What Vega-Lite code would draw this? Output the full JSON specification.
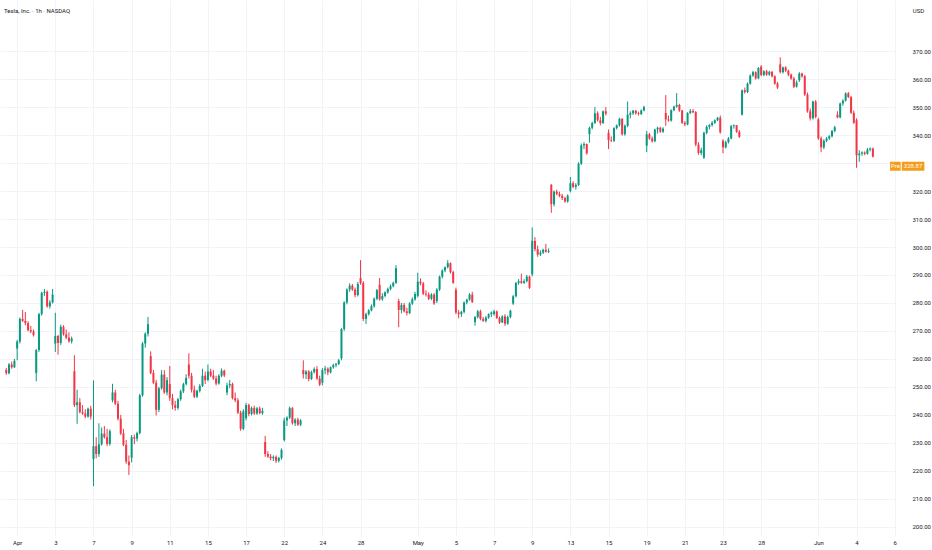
{
  "$schema": "https://vega.github.io/schema/vega-lite/v6.json",
  "width": 895,
  "height": 536,
  "autosize": {"type": "none"},
  "padding": {"left": 0, "top": 0, "right": 37, "bottom": 14},
  "background": "#ffffff",
  "title": {
    "text": "Tesla, Inc. · 1h · NASDAQ",
    "anchor": "start",
    "frame": "group",
    "orient": "top",
    "offset": 0,
    "dx": 4,
    "dy": 20,
    "baseline": "bottom",
    "font": "Roboto",
    "fontSize": 6,
    "fontWeight": "normal",
    "color": "#131722"
  },
  "config": {"view": {"stroke": null}, "font": "Roboto"},
  "datasets": {
    "bars": [
      {"i":-4,"o":256,"h":256.8,"l":254.3,"c":254.9},
      {"i":-3,"o":254.9,"h":258.5,"l":254.5,"c":258},
      {"i":-2,"o":258,"h":259,"l":256.5,"c":257},
      {"i":-1,"o":257,"h":260,"l":256.8,"c":259.3},
      {"i":0,"o":263.7,"h":266.8,"l":259.5,"c":266.2},
      {"i":1,"o":266.2,"h":274.8,"l":265.5,"c":274.3},
      {"i":2,"o":274.3,"h":277.5,"l":273.2,"c":273.6},
      {"i":3,"o":273.6,"h":276.8,"l":272,"c":272.8},
      {"i":4,"o":272.8,"h":273.5,"l":269.8,"c":270.3},
      {"i":5,"o":270.3,"h":271.8,"l":269.2,"c":269.8},
      {"i":6,"o":269.8,"h":270.5,"l":268,"c":268.5},
      {"i":7,"o":255,"h":263.5,"l":252,"c":263.2},
      {"i":8,"o":263.2,"h":276.5,"l":262.5,"c":276},
      {"i":9,"o":276,"h":284,"l":275.5,"c":283.6},
      {"i":10,"o":283.6,"h":285,"l":282.5,"c":284},
      {"i":11,"o":284,"h":284.5,"l":278.3,"c":278.8},
      {"i":12,"o":278.8,"h":281,"l":278,"c":280.2},
      {"i":13,"o":280.2,"h":285,"l":279.8,"c":283},
      {"i":14,"o":265.5,"h":276.5,"l":262.5,"c":268.2},
      {"i":15,"o":268.2,"h":268.6,"l":261.5,"c":265.7},
      {"i":16,"o":265.7,"h":272.2,"l":265,"c":271.5},
      {"i":17,"o":271.5,"h":272,"l":268.3,"c":268.8},
      {"i":18,"o":268.8,"h":270.5,"l":267,"c":267.6},
      {"i":19,"o":267.6,"h":269.5,"l":265.8,"c":266.3},
      {"i":20,"o":266.3,"h":268,"l":265.5,"c":267.3},
      {"i":21,"o":255.6,"h":261.3,"l":242.8,"c":243.5},
      {"i":22,"o":243.5,"h":249,"l":236.8,"c":244.5},
      {"i":23,"o":244.5,"h":246,"l":240.5,"c":241},
      {"i":24,"o":241,"h":243.5,"l":240,"c":240.5},
      {"i":25,"o":240.5,"h":242,"l":238.8,"c":239.4},
      {"i":26,"o":239.4,"h":242.6,"l":239,"c":242.2},
      {"i":27,"o":242.2,"h":243.2,"l":238.3,"c":239.4},
      {"i":28,"o":224.2,"h":252.3,"l":214.5,"c":228.8},
      {"i":29,"o":228.8,"h":232,"l":224.5,"c":226},
      {"i":30,"o":226,"h":237,"l":225,"c":229.5},
      {"i":31,"o":229.5,"h":235.5,"l":229,"c":233.3},
      {"i":32,"o":233.3,"h":236,"l":231.5,"c":232},
      {"i":33,"o":232,"h":235,"l":228.8,"c":229.6},
      {"i":34,"o":229.6,"h":234.8,"l":229,"c":234.2},
      {"i":35,"o":245.2,"h":251.1,"l":244.5,"c":248},
      {"i":36,"o":248,"h":249,"l":243.5,"c":244},
      {"i":37,"o":244,"h":245,"l":238,"c":238.6},
      {"i":38,"o":238.6,"h":240,"l":232.8,"c":233.4},
      {"i":39,"o":233.4,"h":235,"l":228.8,"c":229.3},
      {"i":40,"o":229.3,"h":231,"l":222.5,"c":223.3},
      {"i":41,"o":223.3,"h":225.5,"l":218.5,"c":222},
      {"i":42,"o":224.7,"h":232.8,"l":223,"c":232},
      {"i":43,"o":232,"h":233,"l":229.5,"c":231.5},
      {"i":44,"o":231.5,"h":234,"l":230.5,"c":233.5},
      {"i":45,"o":233.5,"h":247.5,"l":233,"c":247},
      {"i":46,"o":247,"h":266,"l":246.5,"c":265.5},
      {"i":47,"o":265.5,"h":269.5,"l":264,"c":269},
      {"i":48,"o":269,"h":275,"l":268,"c":272.4},
      {"i":49,"o":261,"h":262.7,"l":254.5,"c":255},
      {"i":50,"o":255,"h":256,"l":251,"c":251.5},
      {"i":51,"o":251.5,"h":252.5,"l":239.8,"c":241.8},
      {"i":52,"o":241.8,"h":250,"l":241,"c":249.5},
      {"i":53,"o":249.5,"h":256,"l":249,"c":254.4},
      {"i":54,"o":254.4,"h":256,"l":247.5,"c":248},
      {"i":55,"o":248,"h":253.5,"l":247,"c":252.4},
      {"i":56,"o":251,"h":257.5,"l":245,"c":246},
      {"i":57,"o":246,"h":247.5,"l":242,"c":243.5},
      {"i":58,"o":243.5,"h":245,"l":241.5,"c":242.5},
      {"i":59,"o":242.5,"h":246,"l":241.8,"c":245.6},
      {"i":60,"o":245.6,"h":249,"l":245,"c":248.4},
      {"i":61,"o":248.4,"h":251.5,"l":247.8,"c":251},
      {"i":62,"o":251,"h":254.5,"l":250.5,"c":253.2},
      {"i":63,"o":258,"h":262,"l":253,"c":254},
      {"i":64,"o":254,"h":255,"l":248,"c":249},
      {"i":65,"o":249,"h":250.5,"l":246,"c":246.5},
      {"i":66,"o":246.5,"h":249,"l":246,"c":248.6},
      {"i":67,"o":248.6,"h":251,"l":248,"c":250.3},
      {"i":68,"o":250.3,"h":256.5,"l":250,"c":254},
      {"i":69,"o":254,"h":255.5,"l":251,"c":252.4},
      {"i":70,"o":252.5,"h":258,"l":252,"c":255.5},
      {"i":71,"o":255.5,"h":256.5,"l":253.5,"c":254},
      {"i":72,"o":254,"h":256,"l":252.5,"c":253},
      {"i":73,"o":253,"h":254,"l":250.5,"c":251.2},
      {"i":74,"o":251.2,"h":254.5,"l":250.8,"c":254},
      {"i":75,"o":254,"h":256.6,"l":253.5,"c":255.8},
      {"i":76,"o":255.8,"h":256.2,"l":253.5,"c":254.1},
      {"i":77,"o":248,"h":251.5,"l":247,"c":250.5},
      {"i":78,"o":250.5,"h":252.5,"l":249.5,"c":251},
      {"i":79,"o":251,"h":251.5,"l":245.5,"c":246},
      {"i":80,"o":246,"h":248,"l":244.5,"c":245.2},
      {"i":81,"o":245.2,"h":246,"l":240.3,"c":240.8},
      {"i":82,"o":240.8,"h":241.5,"l":234.3,"c":235},
      {"i":83,"o":235,"h":242,"l":234.5,"c":241.3},
      {"i":84,"o":238.8,"h":244.3,"l":238,"c":243.5},
      {"i":85,"o":243.5,"h":244,"l":239.5,"c":240.3},
      {"i":86,"o":240.3,"h":243,"l":239.8,"c":242.5},
      {"i":87,"o":242.5,"h":243.3,"l":240,"c":240.5},
      {"i":88,"o":240.5,"h":242.8,"l":240,"c":242.3},
      {"i":89,"o":242.3,"h":243,"l":240.2,"c":240.6},
      {"i":90,"o":240.6,"h":242.5,"l":240,"c":241.4},
      {"i":91,"o":230.3,"h":232.5,"l":225,"c":226},
      {"i":92,"o":226,"h":227,"l":224.6,"c":225.1},
      {"i":93,"o":225.1,"h":226,"l":223.8,"c":224.5},
      {"i":94,"o":224.5,"h":225.5,"l":223.5,"c":225},
      {"i":95,"o":225,"h":225.5,"l":222.8,"c":223.6},
      {"i":96,"o":223.6,"h":225,"l":223,"c":224.6},
      {"i":97,"o":224.6,"h":228,"l":224,"c":227.5},
      {"i":98,"o":231,"h":239,"l":230.5,"c":238},
      {"i":99,"o":238,"h":239.5,"l":236,"c":239},
      {"i":100,"o":239,"h":243,"l":238.5,"c":242.4},
      {"i":101,"o":242.4,"h":242.8,"l":236.5,"c":237},
      {"i":102,"o":237,"h":238.8,"l":236,"c":238.3},
      {"i":103,"o":238.3,"h":239,"l":236,"c":236.5},
      {"i":104,"o":236.5,"h":238.5,"l":236,"c":238},
      {"i":105,"o":256,"h":259.5,"l":253,"c":254.5},
      {"i":106,"o":254.5,"h":256,"l":252.8,"c":255.5},
      {"i":107,"o":255.5,"h":256,"l":252,"c":252.8},
      {"i":108,"o":252.8,"h":255.8,"l":252.5,"c":255.3},
      {"i":109,"o":255.3,"h":257,"l":254.8,"c":256.4},
      {"i":110,"o":256.4,"h":257.4,"l":252.5,"c":253},
      {"i":111,"o":253,"h":254,"l":250.3,"c":250.8},
      {"i":112,"o":251.5,"h":256.7,"l":250.5,"c":256},
      {"i":113,"o":256,"h":257.5,"l":254.5,"c":256.5},
      {"i":114,"o":256.5,"h":257,"l":254.2,"c":255.2},
      {"i":115,"o":255.2,"h":257.3,"l":254.8,"c":257},
      {"i":116,"o":257,"h":258.3,"l":256.5,"c":257.8},
      {"i":117,"o":257.8,"h":258.6,"l":257,"c":258.2},
      {"i":118,"o":258.2,"h":260,"l":257.8,"c":259.5},
      {"i":119,"o":260.2,"h":271,"l":259.5,"c":270.7},
      {"i":120,"o":270.7,"h":280.6,"l":270,"c":280.2},
      {"i":121,"o":280.2,"h":285.2,"l":279.5,"c":284.8},
      {"i":122,"o":284.8,"h":287,"l":284,"c":286.2},
      {"i":123,"o":286.2,"h":286.8,"l":284.3,"c":284.8},
      {"i":124,"o":284.8,"h":285.5,"l":282,"c":282.8},
      {"i":125,"o":282.8,"h":287.5,"l":282.3,"c":286.8},
      {"i":126,"o":288.9,"h":295.3,"l":286.5,"c":287.1},
      {"i":127,"o":287.1,"h":287.8,"l":273.5,"c":274.3},
      {"i":128,"o":274.3,"h":276.5,"l":272.5,"c":276},
      {"i":129,"o":276,"h":277.8,"l":275.5,"c":277.3},
      {"i":130,"o":277.3,"h":279.5,"l":277,"c":278.8},
      {"i":131,"o":278.8,"h":282,"l":278.3,"c":281.5},
      {"i":132,"o":281.5,"h":285,"l":281,"c":284.6},
      {"i":133,"o":286.5,"h":288.9,"l":280.8,"c":281.3},
      {"i":134,"o":281.3,"h":283.5,"l":280.8,"c":282.5},
      {"i":135,"o":282.5,"h":284.2,"l":282,"c":283.8},
      {"i":136,"o":283.8,"h":285.5,"l":283.3,"c":285},
      {"i":137,"o":285,"h":286.6,"l":284.5,"c":286},
      {"i":138,"o":286,"h":287.6,"l":285.6,"c":287.2},
      {"i":139,"o":287.2,"h":293.5,"l":286.8,"c":292.4},
      {"i":140,"o":280.7,"h":281.5,"l":271.3,"c":277.5},
      {"i":141,"o":277.5,"h":280,"l":276.3,"c":279.3},
      {"i":142,"o":279.3,"h":280,"l":276.6,"c":277},
      {"i":143,"o":277,"h":278.3,"l":275.5,"c":276.4},
      {"i":144,"o":276.4,"h":280.3,"l":276,"c":279.8},
      {"i":145,"o":279.8,"h":282,"l":279.3,"c":281.3},
      {"i":146,"o":281.3,"h":284,"l":280.8,"c":283.2},
      {"i":147,"o":282.5,"h":290.8,"l":282,"c":287.6},
      {"i":148,"o":287.6,"h":288.8,"l":286.3,"c":287},
      {"i":149,"o":287,"h":287.5,"l":282.8,"c":283.3},
      {"i":150,"o":283.3,"h":284.5,"l":282.3,"c":283},
      {"i":151,"o":283,"h":283.8,"l":281,"c":281.5},
      {"i":152,"o":281.5,"h":283.5,"l":281,"c":283},
      {"i":153,"o":283,"h":283.5,"l":279.3,"c":279.8},
      {"i":154,"o":280.7,"h":285.3,"l":280,"c":284.8},
      {"i":155,"o":284.8,"h":289.8,"l":284.3,"c":289.4},
      {"i":156,"o":289.4,"h":292,"l":288.8,"c":291.6},
      {"i":157,"o":291.6,"h":293,"l":291,"c":292.8},
      {"i":158,"o":292.8,"h":295.3,"l":292.3,"c":294.2},
      {"i":159,"o":294.2,"h":294.5,"l":290.5,"c":291},
      {"i":160,"o":291,"h":291.5,"l":286.8,"c":287.2},
      {"i":161,"o":284.7,"h":285.5,"l":276,"c":276.6},
      {"i":162,"o":276.6,"h":277.5,"l":274.5,"c":276},
      {"i":163,"o":276,"h":277.2,"l":275,"c":276.8},
      {"i":164,"o":276.8,"h":280.5,"l":276.3,"c":280.2},
      {"i":165,"o":280.2,"h":281.5,"l":279.5,"c":281.2},
      {"i":166,"o":281.2,"h":283.5,"l":280.8,"c":283},
      {"i":167,"o":283,"h":284,"l":280,"c":280.3},
      {"i":168,"o":273.2,"h":275.3,"l":271.9,"c":275},
      {"i":169,"o":275,"h":277.5,"l":274.5,"c":277},
      {"i":170,"o":277,"h":277.6,"l":273.8,"c":274.3},
      {"i":171,"o":274.3,"h":275,"l":273.2,"c":273.6},
      {"i":172,"o":273.6,"h":275.3,"l":273,"c":274.8},
      {"i":173,"o":274.8,"h":276.3,"l":274.3,"c":276},
      {"i":174,"o":276,"h":277,"l":275,"c":276.6},
      {"i":175,"o":276,"h":277.6,"l":275.5,"c":277},
      {"i":176,"o":277,"h":277.3,"l":274.3,"c":274.6},
      {"i":177,"o":274.6,"h":275.2,"l":272.5,"c":273},
      {"i":178,"o":273,"h":275.6,"l":272.8,"c":275.2},
      {"i":179,"o":275.2,"h":276,"l":271.8,"c":272.6},
      {"i":180,"o":272.6,"h":275.5,"l":272.2,"c":275},
      {"i":181,"o":275,"h":277.6,"l":274.5,"c":277.2},
      {"i":182,"o":279.8,"h":282.8,"l":279.3,"c":282.4},
      {"i":183,"o":282.4,"h":287.5,"l":282,"c":287.2},
      {"i":184,"o":287.2,"h":288.5,"l":286.5,"c":287.8},
      {"i":185,"o":287.8,"h":290.5,"l":286.8,"c":287.2},
      {"i":186,"o":287.2,"h":288.5,"l":286.8,"c":287.8},
      {"i":187,"o":287.8,"h":290,"l":287.3,"c":289.4},
      {"i":188,"o":289.4,"h":289.8,"l":285,"c":285.4},
      {"i":189,"o":290.2,"h":307,"l":289.5,"c":302.2},
      {"i":190,"o":302.2,"h":303.5,"l":298.5,"c":299.2},
      {"i":191,"o":299.2,"h":300.5,"l":296.5,"c":297.3},
      {"i":192,"o":297.3,"h":298.8,"l":296.8,"c":298},
      {"i":193,"o":298,"h":299.4,"l":297.5,"c":299},
      {"i":194,"o":299,"h":301.1,"l":298,"c":298.3},
      {"i":195,"o":298.3,"h":299.5,"l":297.8,"c":298.6},
      {"i":196,"o":322.2,"h":322.5,"l":312.2,"c":315.3},
      {"i":197,"o":315.3,"h":320.2,"l":314.5,"c":319.8},
      {"i":198,"o":319.8,"h":320.5,"l":318.5,"c":319},
      {"i":199,"o":319,"h":319.8,"l":317.8,"c":318.3},
      {"i":200,"o":318.3,"h":319,"l":316.8,"c":317.5},
      {"i":201,"o":317.5,"h":318,"l":315.8,"c":316.3},
      {"i":202,"o":316.3,"h":318.8,"l":315.8,"c":318.4},
      {"i":203,"o":320,"h":325,"l":319.5,"c":322.8},
      {"i":204,"o":322.8,"h":323.5,"l":321,"c":321.5},
      {"i":205,"o":321.5,"h":322.8,"l":320.5,"c":322.2},
      {"i":206,"o":322.2,"h":330.3,"l":321.8,"c":329.8},
      {"i":207,"o":329.8,"h":337,"l":329.3,"c":336.3},
      {"i":208,"o":336.3,"h":337.5,"l":335,"c":336.8},
      {"i":209,"o":336.8,"h":337,"l":333,"c":333.5},
      {"i":210,"o":340.3,"h":343,"l":337.3,"c":342.6},
      {"i":211,"o":342.6,"h":344.8,"l":342,"c":344.3},
      {"i":212,"o":344.3,"h":350,"l":344,"c":347.8},
      {"i":213,"o":347.8,"h":348.5,"l":344.8,"c":345.3},
      {"i":214,"o":345.3,"h":346.5,"l":343.5,"c":344.3},
      {"i":215,"o":344.3,"h":348.8,"l":344,"c":348.5},
      {"i":216,"o":348.5,"h":350,"l":347,"c":347.7},
      {"i":217,"o":340.8,"h":342,"l":335,"c":338.2},
      {"i":218,"o":338.2,"h":339.5,"l":337.5,"c":338},
      {"i":219,"o":338,"h":342.8,"l":337.5,"c":342.5},
      {"i":220,"o":342.5,"h":343.8,"l":342,"c":343.5},
      {"i":221,"o":343.5,"h":346.2,"l":343,"c":345.8},
      {"i":222,"o":345.8,"h":346.1,"l":339.8,"c":340.3},
      {"i":223,"o":340.3,"h":343.8,"l":339.8,"c":343.3},
      {"i":224,"o":343.3,"h":352,"l":342.8,"c":347.3},
      {"i":225,"o":347.3,"h":348.5,"l":346,"c":347.8},
      {"i":226,"o":347.8,"h":349,"l":347.2,"c":348.7},
      {"i":227,"o":348.7,"h":349,"l":347.3,"c":347.8},
      {"i":228,"o":347.8,"h":348.4,"l":347,"c":347.5},
      {"i":229,"o":347.5,"h":349.2,"l":347.2,"c":348.8},
      {"i":230,"o":348.8,"h":350.5,"l":348.5,"c":350},
      {"i":231,"o":336.2,"h":341.5,"l":333.9,"c":340.3},
      {"i":232,"o":340.3,"h":340.8,"l":338.3,"c":338.8},
      {"i":233,"o":338.8,"h":339.5,"l":337.3,"c":337.8},
      {"i":234,"o":337.8,"h":342.3,"l":337.5,"c":342},
      {"i":235,"o":342,"h":343,"l":340.5,"c":342.6},
      {"i":236,"o":342.6,"h":343,"l":340.8,"c":341.2},
      {"i":237,"o":341.2,"h":342.8,"l":340.8,"c":342.3},
      {"i":238,"o":347.9,"h":354.3,"l":343.3,"c":345.6},
      {"i":239,"o":345.6,"h":347,"l":344.8,"c":345.2},
      {"i":240,"o":345.2,"h":349.2,"l":344.8,"c":348.9},
      {"i":241,"o":348.9,"h":350.5,"l":348.5,"c":350.2},
      {"i":242,"o":350.2,"h":355,"l":349.8,"c":350.8},
      {"i":243,"o":350.8,"h":351.2,"l":348.3,"c":348.8},
      {"i":244,"o":348.8,"h":349,"l":344,"c":344.4},
      {"i":245,"o":344.4,"h":345,"l":343.2,"c":343.8},
      {"i":246,"o":343.8,"h":348.2,"l":343.5,"c":347.9},
      {"i":247,"o":347.9,"h":349.3,"l":347.5,"c":348.6},
      {"i":248,"o":348.6,"h":349.3,"l":347.8,"c":348.2},
      {"i":249,"o":348.2,"h":348.6,"l":336,"c":336.6},
      {"i":250,"o":336.6,"h":337.5,"l":333,"c":333.6},
      {"i":251,"o":333.6,"h":335.5,"l":332.8,"c":334.6},
      {"i":252,"o":331.9,"h":341.2,"l":331.5,"c":340.8},
      {"i":253,"o":340.8,"h":343.5,"l":340.3,"c":343},
      {"i":254,"o":343,"h":344,"l":342,"c":343.6},
      {"i":255,"o":343.6,"h":345,"l":343,"c":344.4},
      {"i":256,"o":344.4,"h":345.6,"l":344,"c":345.3},
      {"i":257,"o":345.3,"h":346.5,"l":345,"c":346.2},
      {"i":258,"o":346.2,"h":347,"l":340.5,"c":341},
      {"i":259,"o":338,"h":338.5,"l":333.5,"c":335.6},
      {"i":260,"o":335.6,"h":338,"l":335.2,"c":337.5},
      {"i":261,"o":337.5,"h":339.3,"l":337,"c":338.8},
      {"i":262,"o":338.8,"h":343.6,"l":338.5,"c":343.2},
      {"i":263,"o":343.2,"h":343.8,"l":342.3,"c":343.5},
      {"i":264,"o":343.5,"h":343.6,"l":340.8,"c":341.2},
      {"i":265,"o":341.2,"h":341.8,"l":339,"c":339.4},
      {"i":266,"o":347.3,"h":356.3,"l":347,"c":356},
      {"i":267,"o":356,"h":357,"l":354.8,"c":355.4},
      {"i":268,"o":355.4,"h":358.8,"l":355,"c":358.4},
      {"i":269,"o":358.4,"h":361.7,"l":358,"c":361.3},
      {"i":270,"o":361.3,"h":363,"l":360.8,"c":362.5},
      {"i":271,"o":362.5,"h":362.8,"l":359.8,"c":360.3},
      {"i":272,"o":360.3,"h":364.3,"l":360,"c":364},
      {"i":273,"o":364.5,"h":365,"l":361,"c":361.5},
      {"i":274,"o":361.5,"h":363.2,"l":361,"c":362.8},
      {"i":275,"o":362.8,"h":363.3,"l":361.2,"c":361.6},
      {"i":276,"o":361.6,"h":363,"l":361.2,"c":362.6},
      {"i":277,"o":362.6,"h":362.9,"l":360.6,"c":361},
      {"i":278,"o":361,"h":361.4,"l":358,"c":358.4},
      {"i":279,"o":358.4,"h":359,"l":356.5,"c":357},
      {"i":280,"o":365.3,"h":367.8,"l":362,"c":362.5},
      {"i":281,"o":362.5,"h":364.5,"l":362,"c":364.2},
      {"i":282,"o":364.2,"h":364.6,"l":362.5,"c":363},
      {"i":283,"o":363,"h":363.4,"l":361,"c":361.6},
      {"i":284,"o":361.6,"h":362,"l":359.8,"c":360.2},
      {"i":285,"o":360.2,"h":360.8,"l":356.8,"c":357.3},
      {"i":286,"o":357.3,"h":359.5,"l":357,"c":358.8},
      {"i":287,"o":359.6,"h":362.5,"l":359,"c":362},
      {"i":288,"o":362,"h":362.3,"l":360.5,"c":361},
      {"i":289,"o":361,"h":361.5,"l":354,"c":354.5},
      {"i":290,"o":354.5,"h":355.2,"l":348,"c":348.5},
      {"i":291,"o":348.5,"h":349.5,"l":345.2,"c":346},
      {"i":292,"o":346,"h":352.3,"l":345.6,"c":352},
      {"i":293,"o":352,"h":352.5,"l":346,"c":346.5},
      {"i":294,"o":345.6,"h":346.2,"l":338.3,"c":338.8},
      {"i":295,"o":338.8,"h":339.5,"l":333.9,"c":335.6},
      {"i":296,"o":335.6,"h":338.5,"l":335,"c":338},
      {"i":297,"o":338,"h":339.3,"l":337.5,"c":338.8},
      {"i":298,"o":338.8,"h":340,"l":338.3,"c":339.6},
      {"i":299,"o":339.6,"h":341.8,"l":339.2,"c":341.5},
      {"i":300,"o":341.5,"h":343.3,"l":341,"c":342.8},
      {"i":301,"o":347.3,"h":348.5,"l":346,"c":346.3},
      {"i":302,"o":346.3,"h":351.6,"l":346,"c":351.3},
      {"i":303,"o":351.3,"h":352.8,"l":350.5,"c":352.3},
      {"i":304,"o":352.3,"h":355.3,"l":352,"c":354.9},
      {"i":305,"o":354.9,"h":355.4,"l":353.2,"c":353.6},
      {"i":306,"o":353.6,"h":354,"l":347.5,"c":348},
      {"i":307,"o":348,"h":348.8,"l":344,"c":344.4},
      {"i":308,"o":345.3,"h":346,"l":328.3,"c":332.8},
      {"i":309,"o":332.8,"h":334.6,"l":330.5,"c":333.4},
      {"i":310,"o":333.4,"h":334.2,"l":332.6,"c":333.8},
      {"i":311,"o":333.8,"h":334.2,"l":332.8,"c":333.3},
      {"i":312,"o":333.3,"h":335.4,"l":333,"c":334.8},
      {"i":313,"o":334.8,"h":335.6,"l":334.2,"c":335.2},
      {"i":314,"o":335.2,"h":335.5,"l":332,"c":332.3}
    ],
    "tag": [{"session": "Pre", "price": 328.87, "shown": "328.87"}]
  },
  "layer": [
    {
      "data": {"name": "bars"},
      "mark": {"type": "rule", "strokeWidth": 1},
      "encoding": {
        "x": {
          "field": "i",
          "type": "quantitative",
          "scale": {"domain": [-4.463, 320.28], "nice": false, "zero": false},
          "axis": {
            "title": null,
            "values": [0, 14, 28, 42, 56, 70, 84, 98, 112, 126, 147, 161, 175, 189, 203, 217, 231, 245, 259, 273, 294, 308, 322],
            "labelExpr": "['Apr','3','7','9','11','15','17','22','24','28','May','5','7','9','13','15','19','21','23','28','Jun','4','6'][indexof([0,14,28,42,56,70,84,98,112,126,147,161,175,189,203,217,231,245,259,273,294,308,322], datum.value)]",
            "grid": true,
            "gridColor": "#f0f3fa",
            "domain": false,
            "ticks": false,
            "labelFont": "Roboto",
            "labelFontSize": 6,
            "labelColor": "#131722",
            "labelPadding": 6,
            "labelBaseline": "middle",
            "labelFlush": false,
            "labelOverlap": false
          }
        },
        "y": {
          "field": "l",
          "type": "quantitative",
          "scale": {"domain": [198.49, 386.5], "nice": false, "zero": false},
          "axis": {
            "orient": "right",
            "values": [200, 210, 220, 230, 240, 250, 260, 270, 280, 290, 300, 310, 320, 330, 340, 350, 360, 370],
            "tickCount": 19,
            "labelExpr": "(datum.value == 330 || datum.value > 375) ? '' : format(datum.value, '.2f')",
            "grid": true,
            "gridColor": "#f0f3fa",
            "domain": false,
            "ticks": false,
            "labelFont": "Roboto",
            "labelFontSize": 6,
            "labelColor": "#131722",
            "labelAlign": "left",
            "labelPadding": 17,
            "labelOverlap": false,
            "title": "USD",
            "titleAngle": 0,
            "titleX": 23,
            "titleY": 10,
            "titleAlign": "center",
            "titleBaseline": "middle",
            "titleFont": "Roboto",
            "titleFontSize": 6,
            "titleFontWeight": "normal",
            "titleColor": "#131722"
          }
        },
        "y2": {"field": "h"},
        "color": {
          "condition": {"test": "datum.c >= datum.o", "value": "#089981"},
          "value": "#f23645"
        }
      }
    },
    {
      "data": {"name": "bars"},
      "mark": {"type": "bar", "size": 2},
      "encoding": {
        "x": {"field": "i", "type": "quantitative"},
        "y": {"field": "o", "type": "quantitative"},
        "y2": {"field": "c"},
        "color": {
          "condition": {"test": "datum.c >= datum.o", "value": "#089981"},
          "value": "#f23645"
        }
      }
    },
    {
      "data": {"name": "tag"},
      "mark": {"type": "bar", "orient": "horizontal", "size": 9, "color": "#f59c1a"},
      "encoding": {
        "x": {"datum": 320.3},
        "x2": {"datum": 324.2},
        "y": {"field": "price", "type": "quantitative"}
      }
    },
    {
      "data": {"name": "tag"},
      "mark": {"type": "bar", "orient": "horizontal", "size": 9, "color": "#f59c1a"},
      "encoding": {
        "x": {"datum": 324.6},
        "x2": {"datum": 332.9},
        "y": {"field": "price", "type": "quantitative"}
      }
    },
    {
      "data": {"name": "tag"},
      "mark": {"type": "text", "color": "#ffffff", "font": "Roboto", "fontSize": 6, "align": "center", "baseline": "middle"},
      "encoding": {
        "x": {"datum": 322.25},
        "y": {"field": "price", "type": "quantitative"},
        "text": {"field": "session"}
      }
    },
    {
      "data": {"name": "tag"},
      "mark": {"type": "text", "color": "#ffffff", "font": "Roboto", "fontSize": 6, "align": "center", "baseline": "middle"},
      "encoding": {
        "x": {"datum": 328.75},
        "y": {"field": "price", "type": "quantitative"},
        "text": {"field": "shown"}
      }
    }
  ]
}
